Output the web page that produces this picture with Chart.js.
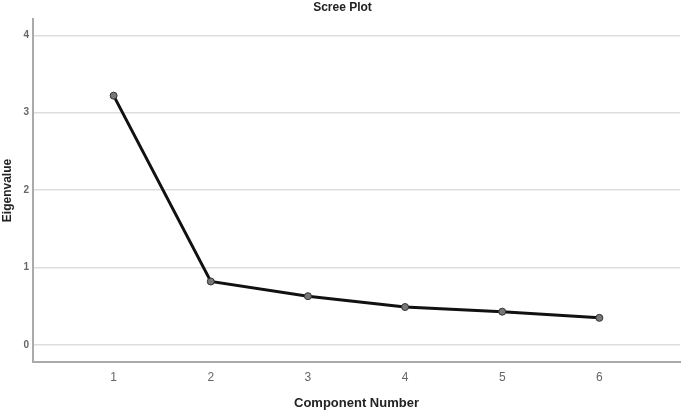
<!DOCTYPE html>
<html>
<head>
<meta charset="utf-8">
<script src="https://cdn.jsdelivr.net/npm/chart.js@4"></script>
<style>
  html, body { margin: 0; padding: 0; background: #fff; }
  #wrap { width: 685px; height: 413px; }
</style>
</head>
<body>
<div id="wrap"><canvas id="scree"></canvas></div>
<script>
const components = [1, 2, 3, 4, 5, 6]
const eigenvalues = [3.22, 0.82, 0.63, 0.49, 0.43, 0.35]
const yTicks = [0, 1, 2, 3, 4]

const fontFam = '"Liberation Sans", Arial, sans-serif'

const config = {
    type: 'line',
    data: {
        datasets: [{
            label: 'Eigenvalue',
            data: components.map((c, i) => ({ x: c, y: eigenvalues[i] })),
            borderColor: '#111',
            borderWidth: 3,
            pointRadius: 3.5,
            pointBackgroundColor: '#777',
            pointBorderColor: '#333',
            pointBorderWidth: 1,
            tension: 0
        }]
    },
    options: {
        responsive: true,
        maintainAspectRatio: false,
        animation: false,
        layout: { padding: { left: 0, right: 0, top: 0, bottom: 2 } },
        plugins: {
            legend: { display: false },
            tooltip: { enabled: false },
            title: {
                display: true,
                text: 'Scree Plot',
                color: '#222',
                font: { family: fontFam, size: 12, weight: 'bold' },
                padding: { top: 0, bottom: 4.6 }
            }
        },
        scales: {
            x: {
                type: 'linear',
                min: 0.17,
                max: 6.83,
                afterBuildTicks: s => { s.ticks = components.map(v => ({ value: v })) },
                afterFit: s => { s.height = 49 },
                grid: { display: false, drawTicks: false },
                border: { display: true, color: '#aaa', width: 2 },
                ticks: {
                    color: '#666',
                    padding: 8,
                    font: { family: fontFam, size: 12 }
                },
                title: {
                    display: true,
                    text: 'Component Number',
                    color: '#222',
                    padding: 0,
                    font: { family: fontFam, size: 13, weight: 'bold' }
                }
            },
            y: {
                min: -0.22,
                max: 4.21,
                afterBuildTicks: s => { s.ticks = yTicks.map(v => ({ value: v })) },
                afterFit: s => { s.width = 33 },
                grid: { color: '#ddd', lineWidth: 1.5, drawTicks: false },
                border: { display: true, color: '#aaa', width: 2 },
                ticks: {
                    color: '#666',
                    padding: 4,
                    font: { family: fontFam, size: 10, weight: 'bold' }
                },
                title: {
                    display: true,
                    text: 'Eigenvalue',
                    color: '#222',
                    padding: 0,
                    font: { family: fontFam, size: 12, weight: 'bold' }
                }
            }
        }
    }
}

const myChart = new Chart(document.querySelector('#scree'), config)
</script>
</body>
</html>
